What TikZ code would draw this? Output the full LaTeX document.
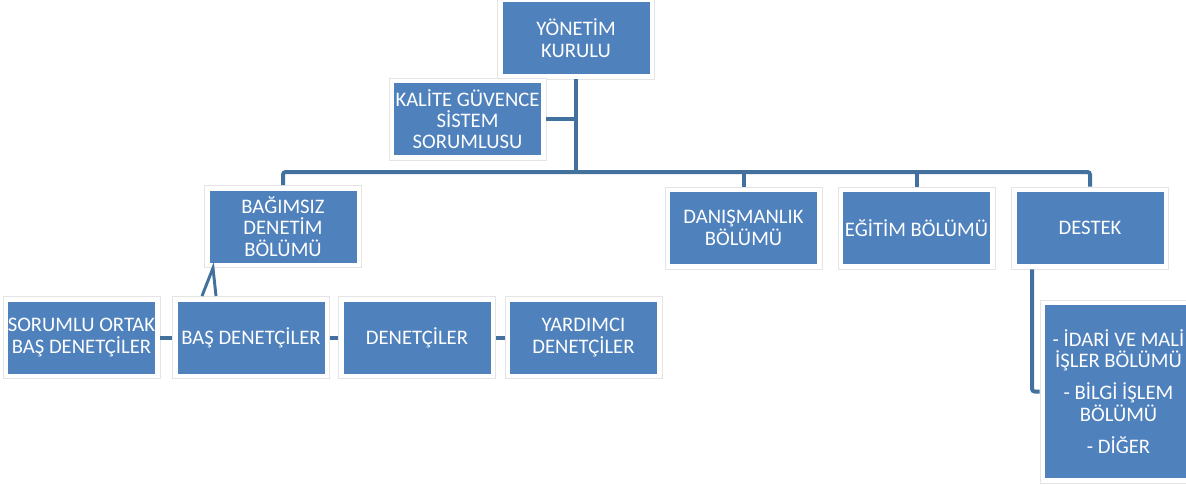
\documentclass[tikz,border=0pt]{standalone}
\usepackage{fontspec}
\setmainfont{Carlito}
\newfontfamily\boxfamily{Carlito}
\definecolor{boxblue}{HTML}{4F81BD}
\definecolor{linkblue}{HTML}{41719C}
\definecolor{framegray}{HTML}{E4E4E4}
\tikzset{
  orgbox/.style={rectangle, fill=white, draw=framegray, line width=0.6pt,
    minimum width=117.75pt, minimum height=61.5pt, inner sep=0pt,
    align=center, text=white,
    font=\boxfamily\fontsize{15.5}{16}\selectfont,
    path picture={\fill[boxblue]
      ([shift={(3.75pt,3.75pt)}]path picture bounding box.south west) rectangle
      ([shift={(-3.75pt,-3.75pt)}]path picture bounding box.north east);}},
  tallbox/.style={orgbox, minimum height=137.25pt},
  conn/.style={draw=linkblue, line width=3pt},
  thinconn/.style={draw=linkblue, line width=2.2pt}
}
\begin{document}
\begin{tikzpicture}[x=0.75pt,y=-0.75pt]
\clip (0,0) rectangle (1186,485);
\fill[white] (0,0) rectangle (1186,485);

\node[orgbox] (yk) at (576,38) {YÖNETİM\\KURULU};
\node[orgbox] (kal) at (467.5,119) {KALİTE GÜVENCE\\SİSTEM\\SORUMLUSU};
\node[orgbox] (bag) at (283,226.5) {BAĞIMSIZ\\DENETİM\\BÖLÜMÜ};
\node[orgbox] (dan) at (743.5,228) {DANIŞMANLIK\\BÖLÜMÜ};
\node[orgbox] (egt) at (916.5,228) {EĞİTİM BÖLÜMÜ};
\node[orgbox] (des) at (1090,228) {DESTEK};
\node[orgbox] (sor) at (81.5,337.5) {SORUMLU ORTAK\\BAŞ DENETÇİLER};
\node[orgbox] (bas) at (251,337.5) {BAŞ DENETÇİLER};
\node[orgbox] (den) at (417,337.5) {DENETÇİLER};
\node[orgbox] (yar) at (583.5,337.5) {YARDIMCI\\DENETÇİLER};
\node[tallbox] (sub) at (1118.5,391.5) {- İDARİ VE MALİ\\İŞLER BÖLÜMÜ\\[8pt]- BİLGİ İŞLEM\\BÖLÜMÜ\\[8pt]- DİĞER};

\coordinate (bus) at (576,172);
\coordinate (dx) at (1032,0);
\coordinate (lamL) at (202,296);
\coordinate (lamR) at (216,296);
\coordinate (lamT) at (213,268);

\draw[conn] (yk.south) -- (bus);
\draw[conn] (kal.east) -- (kal.east -| yk.south);
\draw[conn, rounded corners=2pt] (bag.north) -- (bag.north |- bus) -- (des.north |- bus) -- (des.north);
\draw[conn] (dan.north) -- (dan.north |- bus);
\draw[conn] (egt.north) -- (egt.north |- bus);
\draw[conn, rounded corners=2pt] (des.south -| dx) |- (sub.west);
\draw[conn] (sor.east) -- (bas.west);
\draw[conn] (bas.east) -- (den.west);
\draw[conn] (den.east) -- (yar.west);
\draw[thinconn] (lamL) -- (lamT) -- (lamR);
\end{tikzpicture}
\end{document}
